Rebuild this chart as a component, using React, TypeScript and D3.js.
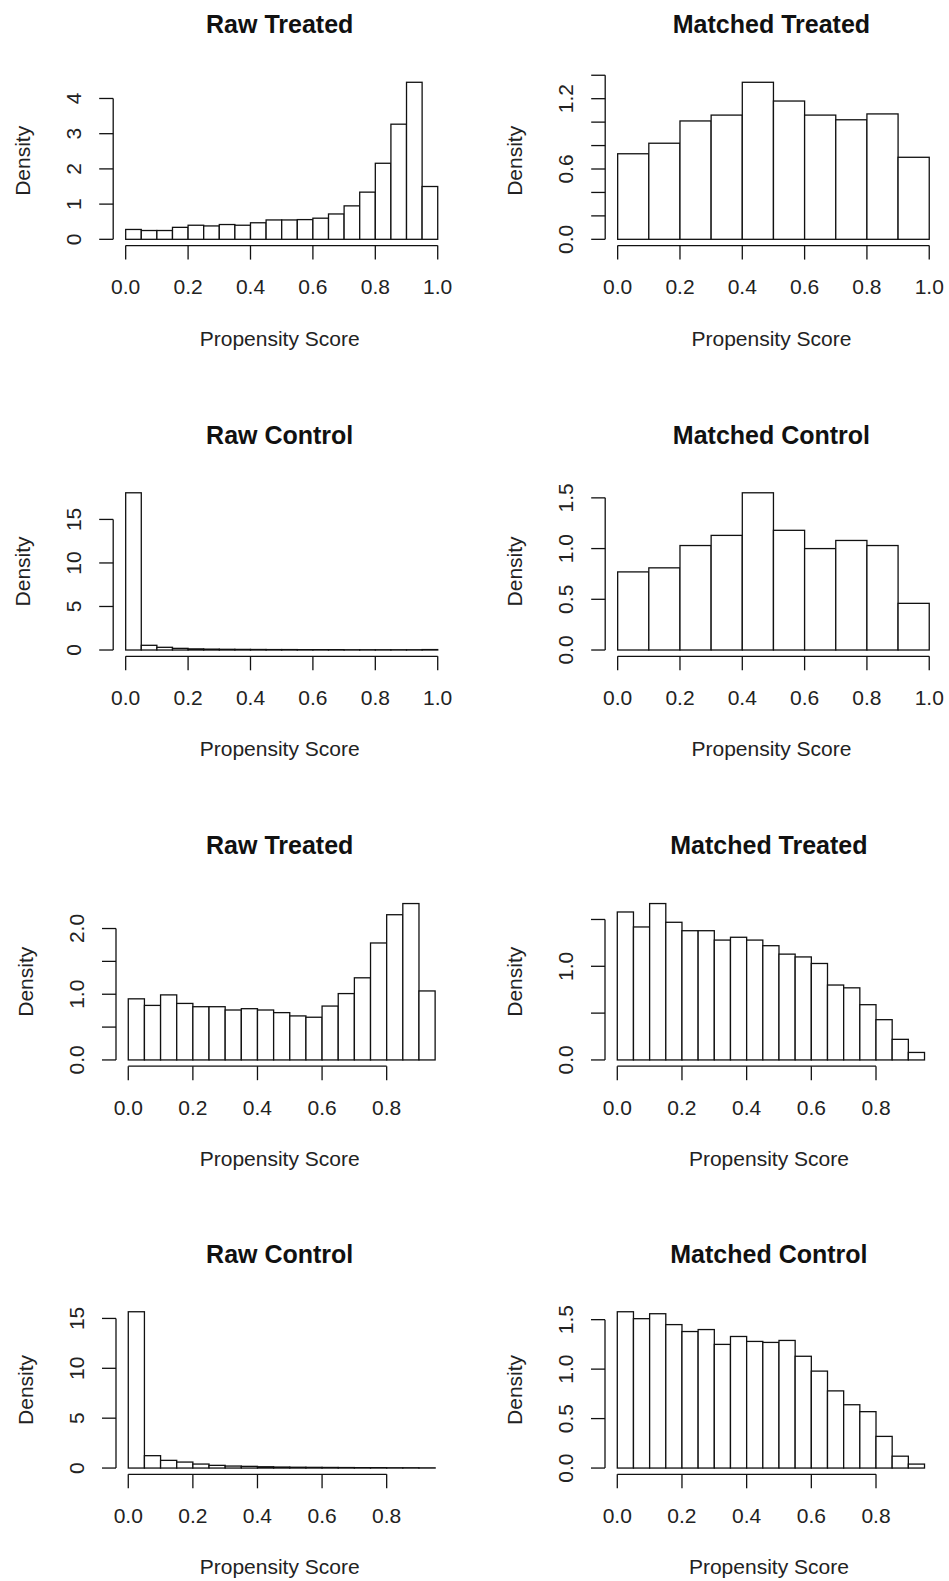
import React from 'react';
import * as d3 from 'd3';

const W = 949;
const H = 1581;
const FONT = "'Liberation Sans', Arial, Helvetica, sans-serif";

// Panel titles, in reading order (two columns, four rows)
const titles = [
  'Raw Treated', 'Matched Treated',
  'Raw Control', 'Matched Control',
  'Raw Treated', 'Matched Treated',
  'Raw Control', 'Matched Control',
];

// Histogram bin widths per panel (bins start at 0)
const binWidths = [0.05, 0.1, 0.05, 0.1, 0.05, 0.05, 0.05, 0.05];

// Densities per bin
const rawTreatedA = [0.28, 0.25, 0.25, 0.34, 0.40, 0.38, 0.42, 0.40, 0.47, 0.55, 0.55, 0.56, 0.60, 0.72, 0.95, 1.34, 2.16, 3.27, 4.46, 1.50];
const matchedTreatedA = [0.73, 0.82, 1.01, 1.06, 1.34, 1.18, 1.06, 1.02, 1.07, 0.70];
const rawControlA = [18.06, 0.54, 0.31, 0.19, 0.13, 0.10, 0.08, 0.07, 0.06, 0.05, 0.05, 0.04, 0.04, 0.04, 0.03, 0.03, 0.03, 0.03, 0.03, 0.05];
const matchedControlA = [0.77, 0.81, 1.03, 1.13, 1.55, 1.18, 1.00, 1.08, 1.03, 0.46];
const rawTreatedB = [0.93, 0.83, 0.99, 0.86, 0.81, 0.81, 0.76, 0.78, 0.76, 0.72, 0.67, 0.65, 0.82, 1.01, 1.25, 1.78, 2.21, 2.38, 1.05];
const matchedTreatedB = [1.58, 1.42, 1.67, 1.47, 1.38, 1.38, 1.28, 1.31, 1.28, 1.22, 1.13, 1.10, 1.03, 0.80, 0.77, 0.59, 0.43, 0.22, 0.08];
const rawControlB = [15.67, 1.24, 0.77, 0.60, 0.40, 0.27, 0.20, 0.17, 0.13, 0.10, 0.08, 0.07, 0.06, 0.05, 0.04, 0.04, 0.03, 0.03, 0.02];
const matchedControlB = [1.58, 1.51, 1.56, 1.45, 1.38, 1.40, 1.25, 1.33, 1.28, 1.27, 1.29, 1.13, 0.98, 0.78, 0.64, 0.57, 0.32, 0.12, 0.04];

const densities = [
  rawTreatedA, matchedTreatedA,
  rawControlA, matchedControlA,
  rawTreatedB, matchedTreatedB,
  rawControlB, matchedControlB,
];

// Axis ticks
const xTicksFull = [0, 0.2, 0.4, 0.6, 0.8, 1.0];
const xTicksShort = [0, 0.2, 0.4, 0.6, 0.8];
const xTickSets = [xTicksFull, xTicksFull, xTicksFull, xTicksFull, xTicksShort, xTicksShort, xTicksShort, xTicksShort];

const yTickSets = [
  [0, 1, 2, 3, 4],
  [0, 0.2, 0.4, 0.6, 0.8, 1.0, 1.2, 1.4],
  [0, 5, 10, 15],
  [0, 0.5, 1.0, 1.5],
  [0, 0.5, 1.0, 1.5, 2.0],
  [0, 0.5, 1.0, 1.5],
  [0, 5, 10, 15],
  [0, 0.5, 1.0, 1.5],
];
// Ticks that carry a label
const yLabelSets = [
  [0, 1, 2, 3, 4],
  [0, 0.6, 1.2],
  [0, 5, 10, 15],
  [0, 0.5, 1.0, 1.5],
  [0, 1.0, 2.0],
  [0, 1.0],
  [0, 5, 10, 15],
  [0, 0.5, 1.0, 1.5],
];
const yLabelFormats = ['d', '.1f', 'd', '.1f', '.1f', '.1f', 'd', '.1f'];

const xLabel = 'Propensity Score';
const yLabel = 'Density';

// Plot regions (pixels): rows and columns of the grid
const rowBands = [
  [76, 245.6],
  [486.5, 656.3],
  [897.3, 1066.2],
  [1305.5, 1474.3],
];
const colBandsWide = [[113.2, 450.2], [605.2, 941.7]];
const colBandsNarrow = [[116.0, 447.4], [605.0, 936.8]];

const STROKE = '#111';
const LW = 1.3;
const TICK = 14;

type PanelProps = {
  idx: number;
};

function Panel({ idx }: PanelProps) {
  const row = Math.floor(idx / 2);
  const col = idx % 2;
  const [top, bottom] = rowBands[row];
  const [left, right] = (row < 2 ? colBandsWide : colBandsNarrow)[col];
  const dens = densities[idx];
  const bw = binWidths[idx];
  const xmax = dens.length * bw;
  const ymax = d3.max(dens) as number;

  const x = d3.scaleLinear().domain([-0.04 * xmax, 1.04 * xmax]).range([left, right]);
  const y = d3.scaleLinear().domain([-0.04 * ymax, 1.04 * ymax]).range([bottom, top]);

  const xt = xTickSets[idx];
  const yt = yTickSets[idx];
  const yl = yLabelSets[idx];
  const fmtY = d3.format(yLabelFormats[idx]);
  const fmtX = d3.format('.1f');
  const cx = (left + right) / 2;
  const cy = (top + bottom) / 2;

  return (
    <g>
      <text x={cx - 2} y={top - 43} textAnchor="middle" fontFamily={FONT} fontWeight="bold" fontSize={25} fill="#111">
        {titles[idx]}
      </text>

      {dens.map((d, i) => (
        <rect
          key={i}
          x={x(i * bw)}
          y={y(d)}
          width={x((i + 1) * bw) - x(i * bw)}
          height={y(0) - y(d)}
          fill="#fff"
          stroke={STROKE}
          strokeWidth={LW}
        />
      ))}

      {/* x axis */}
      <line x1={x(xt[0])} x2={x(xt[xt.length - 1])} y1={bottom} y2={bottom} stroke={STROKE} strokeWidth={LW} />
      {xt.map((t) => (
        <g key={'xt' + t}>
          <line x1={x(t)} x2={x(t)} y1={bottom} y2={bottom + TICK} stroke={STROKE} strokeWidth={LW} />
          <text x={x(t)} y={bottom + 48.5} textAnchor="middle" fontFamily={FONT} fontSize={21} fill="#222">
            {fmtX(t)}
          </text>
        </g>
      ))}
      <text x={cx - 2} y={bottom + 100} textAnchor="middle" fontFamily={FONT} fontSize={21} fill="#222">
        {xLabel}
      </text>

      {/* y axis */}
      <line x1={left} x2={left} y1={y(yt[0])} y2={y(yt[yt.length - 1])} stroke={STROKE} strokeWidth={LW} />
      {yt.map((t) => (
        <line key={'yt' + t} x1={left} x2={left - TICK} y1={y(t)} y2={y(t)} stroke={STROKE} strokeWidth={LW} />
      ))}
      {yl.map((t) => (
        <text
          key={'yl' + t}
          transform={`translate(${left - 32},${y(t)}) rotate(-90)`}
          textAnchor="middle"
          fontFamily={FONT}
          fontSize={21}
          fill="#222"
        >
          {fmtY(t)}
        </text>
      ))}
      <text
        transform={`translate(${left - 83},${cy}) rotate(-90)`}
        textAnchor="middle"
        fontFamily={FONT}
        fontSize={21}
        fill="#222"
      >
        {yLabel}
      </text>
    </g>
  );
}

export default function App() {
  return (
    <svg
      width={W}
      height={H}
      viewBox={`0 0 ${W} ${H}`}
      style={{ position: 'absolute', left: 0, top: 0, background: '#fff' }}
    >
      <rect x={0} y={0} width={W} height={H} fill="#fff" />
      {titles.map((_, i) => (
        <Panel key={i} idx={i} />
      ))}
    </svg>
  );
}
